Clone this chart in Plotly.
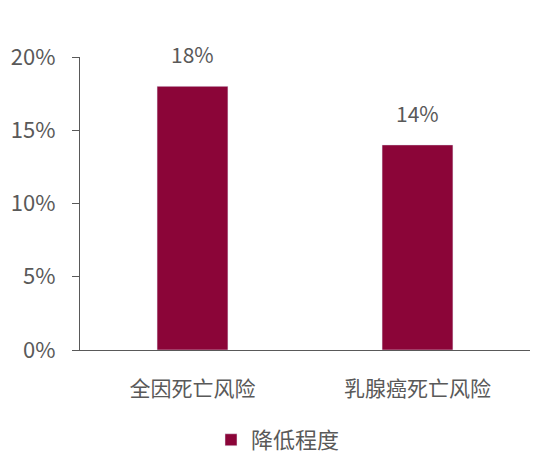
import plotly.graph_objects as go

# data
categories = ["全因死亡风险", "乳腺癌死亡风险"]
values = [0.18, 0.14]
series_name = "降低程度"
tick_vals = [0, 0.05, 0.10, 0.15, 0.20]
tick_text = ["0%", "5%", "10%", "15%", "20%"]

bar_color = "#8B0538"
text_color = "#595959"
font_family = "Noto Sans CJK SC"

fig = go.Figure()
fig.add_trace(go.Bar(
    x=categories,
    y=values,
    name=series_name,
    marker_color=bar_color,
    width=0.315,
    showlegend=True,
))

# value labels above the bars
for c, v in zip(categories, values):
    fig.add_annotation(x=c, y=v, text=f"{v:.0%}", showarrow=False,
                       yanchor="bottom", yshift=15,
                       font=dict(size=21, color=text_color))

fig.update_layout(
    width=550, height=472,
    margin=dict(l=72, r=28, t=49, b=130, autoexpand=False),
    paper_bgcolor="white", plot_bgcolor="white",
    font=dict(family=font_family, color=text_color, size=21),
    legend=dict(orientation="h", x=0.44, xanchor="center", y=-0.307, yanchor="middle",
                font=dict(size=22, color=text_color), itemwidth=30),
    xaxis=dict(showline=True, linecolor="#595959", linewidth=1.3,
               tickfont=dict(size=21), ticks="", showgrid=False,
               ticklabelstandoff=20),
    yaxis=dict(range=[0, 0.20], tickvals=tick_vals, ticktext=tick_text,
               showline=True, linecolor="#595959", linewidth=1.3,
               ticks="outside", ticklen=7, tickcolor="#595959",
               tickfont=dict(size=22), showgrid=False, zeroline=False,
               ticklabelstandoff=12),
    bargap=0.68,
)

fig.write_html("out.html")
